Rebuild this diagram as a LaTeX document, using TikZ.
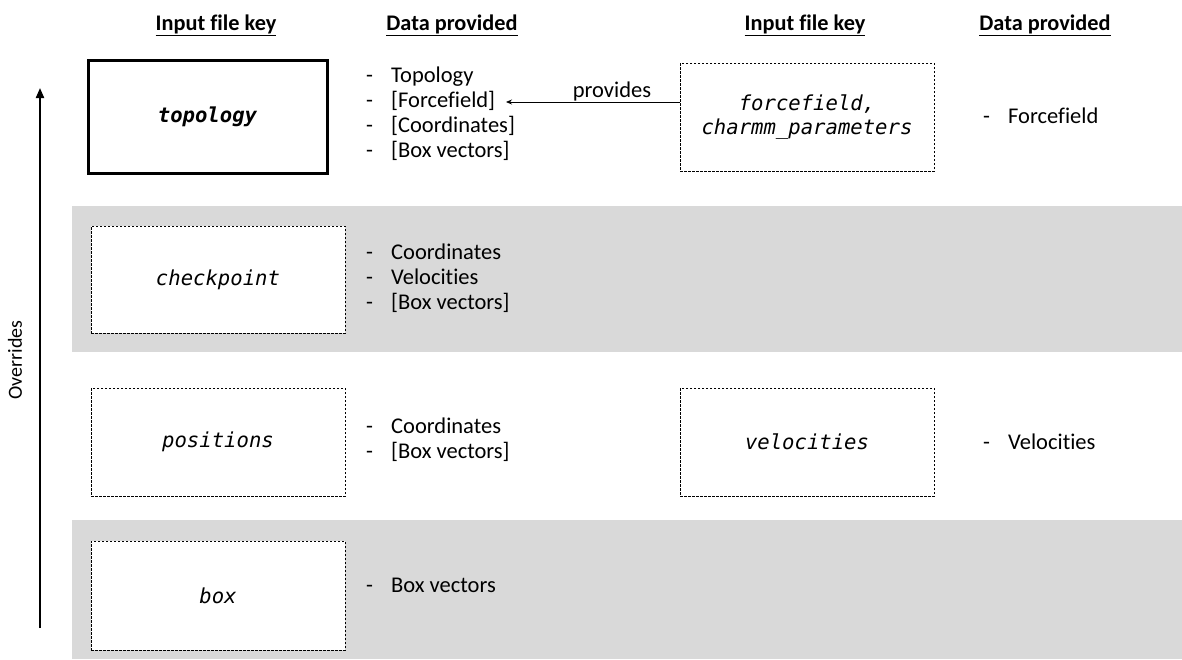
\documentclass[tikz,border=0pt]{standalone}
\usepackage{fontspec}
\setmainfont{Carlito}[Ligatures=NoCommon]
\newfontfamily\keyfont{DejaVu Sans Mono}
\usetikzlibrary{arrows.meta}
\definecolor{band}{RGB}{217,217,217}
\newcommand{\itm}[1]{\makebox[25pt][l]{-}#1}
\begin{document}
\begin{tikzpicture}[x=1pt,y=-1pt,
  keybox/.style={draw, dash pattern=on 2.5pt off 1.5pt, line width=0.8pt, fill=white,
    minimum width=254pt, minimum height=108pt, inner sep=0pt,
    font=\fontsize{20.6}{24}\keyfont\itshape, align=center},
  lst/.style={anchor=west, align=left, inner sep=0pt,
    font=\fontsize{22.5}{25}\selectfont},
  hdr/.style={font=\fontsize{22.3}{25}\selectfont\bfseries, inner sep=0pt}]
\useasboundingbox (0,0) rectangle (1182,659);
% bands
\fill[band] (72,206) rectangle (1182,352);
\fill[band] (72,520) rectangle (1182,659);
% headers
\node[hdr] (h1) at (216,25) {\underline{Input file key}};
\node[hdr] (h2) at (452,25) {\underline{Data provided}};
\node[hdr] (h3) at (805,25) {\underline{Input file key}};
\node[hdr] (h4) at (1045,25) {\underline{Data provided}};
% key boxes
\node[keybox, solid, line width=3pt, minimum width=239pt, minimum height=113pt,
  font=\fontsize{20.6}{24}\keyfont\bfseries\itshape] (topo) at (207.5,116.5) {topology};
\node[keybox] (ff) at (807,117) {forcefield,\\charmm\_parameters};
\node[keybox, minimum height=107pt] (chk) at (218,279.5) {checkpoint};
\node[keybox] (pos) at (218,442) {positions};
\node[keybox] (vel) at (807,442) {velocities};
\node[keybox, minimum height=109pt] (bx) at (218,595.5) {box};
% lists
\node[lst] (ltopo) at (366,115) {\begin{tabular}{@{}l@{}}\itm{Topology}\\\itm{[Forcefield]}\\\itm{[Coordinates]}\\\itm{[Box vectors]}\end{tabular}};
\node[lst] (lff) at (983,116) {\itm{Forcefield}};
\node[lst] (lchk) at (366,279) {\begin{tabular}{@{}l@{}}\itm{Coordinates}\\\itm{Velocities}\\\itm{[Box vectors]}\end{tabular}};
\node[lst] (lpos) at (366,441) {\begin{tabular}{@{}l@{}}\itm{Coordinates}\\\itm{[Box vectors]}\end{tabular}};
\node[lst] (lvel) at (983,442) {\itm{Velocities}};
\node[lst] (lbx) at (366,585) {\itm{Box vectors}};
% provides arrow
\coordinate (fftip) at (506,102);
\draw[line width=0.8pt, -{Stealth[length=6pt,width=5pt]}] (ff.west |- fftip) -- (fftip);
\node[font=\fontsize{22.5}{25}\selectfont, inner sep=0pt] (prov) at (612,91) {provides};
% overrides arrow
\coordinate (ob) at (40,628);
\coordinate (ot) at (40,88);
\draw[line width=2pt, -{Triangle[length=10pt,width=8pt]}] (ob) -- (ot);
\node[rotate=90, font=\fontsize{20}{24}\selectfont, inner sep=0pt] (ovr) at (15,360) {Overrides};
\end{tikzpicture}
\end{document}
